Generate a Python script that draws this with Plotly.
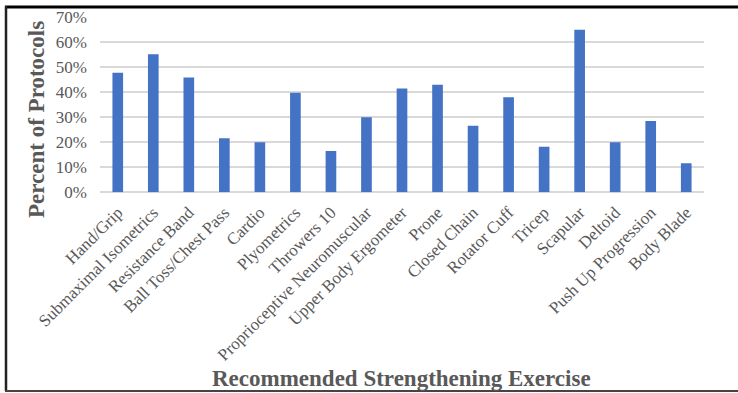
import plotly.graph_objects as go

# Strengthening exercises and the share of protocols recommending each
exercises = [
    "Hand/Grip", "Submaximal Isometrics", "Resistance Band", "Ball Toss/Chest Pass",
    "Cardio", "Plyometrics", "Throwers 10", "Proprioceptive Neuromuscular",
    "Upper Body Ergometer", "Prone", "Closed Chain", "Rotator Cuff", "Tricep",
    "Scapular", "Deltoid", "Push Up Progression", "Body Blade",
]
percent_of_protocols = [
    0.477, 0.550, 0.458, 0.215, 0.200, 0.397, 0.165, 0.299,
    0.414, 0.429, 0.265, 0.379, 0.182, 0.648, 0.200, 0.284, 0.116,
]
y_ticks = [0, 0.1, 0.2, 0.3, 0.4, 0.5, 0.6, 0.7]

W, H = 738, 393
serif = "Liberation Serif, Times New Roman, serif"
grey = "#595959"

fig = go.Figure(
    go.Bar(
        x=exercises,
        y=percent_of_protocols,
        marker=dict(color="#4472C4", line=dict(width=0)),
    )
)

fig.update_layout(
    width=W,
    height=H,
    margin=dict(l=0, r=0, t=0, b=0),
    paper_bgcolor="white",
    plot_bgcolor="white",
    bargap=0.7,
    showlegend=False,
    font=dict(family=serif, color=grey),
    xaxis=dict(
        domain=[100 / W, 704 / W],
        tickangle=-45,
        tickfont=dict(family=serif, size=17, color=grey),
        showgrid=False,
        showline=False,
        zeroline=False,
        ticks="",
        ticklabelstandoff=6,
        automargin=False,
    ),
    yaxis=dict(
        domain=[(H - 192.3) / H, (H - 16.7) / H],
        range=[0, 0.7],
        tickvals=y_ticks,
        tickformat=".0%",
        tickfont=dict(family=serif, size=17, color=grey),
        showgrid=True,
        gridcolor="#d9d9d9",
        gridwidth=1.5,
        zeroline=True,
        zerolinecolor="#d9d9d9",
        zerolinewidth=1.5,
        showline=False,
        ticks="",
        ticklabelstandoff=12,
        automargin=False,
    ),
    annotations=[
        dict(
            text="<b>Percent of Protocols</b>",
            xref="paper", yref="paper",
            x=37 / W, y=(H - 120) / H,
            textangle=-90, showarrow=False,
            font=dict(family=serif, size=23, color=grey),
            xanchor="center", yanchor="middle",
        ),
        dict(
            text="<b>Recommended Strengthening Exercise</b>",
            xref="paper", yref="paper",
            x=401 / W, y=(H - 378) / H,
            showarrow=False,
            font=dict(family=serif, size=23, color=grey),
            xanchor="center", yanchor="middle",
        ),
    ],
    shapes=[
        # frame around the chart: heavy top rule, left rule and bottom rule
        dict(type="line", xref="paper", yref="paper",
             x0=5 / W, x1=1, y0=(H - 7) / H, y1=(H - 7) / H,
             line=dict(color="black", width=3)),
        dict(type="line", xref="paper", yref="paper",
             x0=6 / W, x1=6 / W, y0=(H - 391) / H, y1=(H - 6) / H,
             line=dict(color="#222222", width=2.5)),
        dict(type="line", xref="paper", yref="paper",
             x0=5 / W, x1=1, y0=(H - 391) / H, y1=(H - 391) / H,
             line=dict(color="#444444", width=2)),
    ],
)

fig.write_html("out.html")
